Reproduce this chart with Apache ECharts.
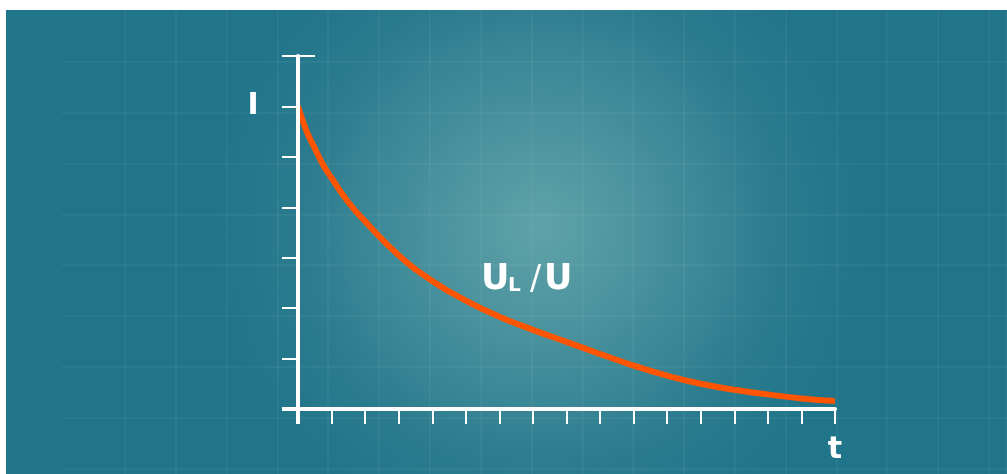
<!DOCTYPE html>
<html>
<head>
<meta charset="utf-8">
<script src="https://cdn.jsdelivr.net/npm/echarts@6/dist/echarts.min.js"></script>
<style>
  html, body { margin: 0; padding: 0; background: #fff; }
  #chart { position: absolute; left: 6px; top: 10px; width: 1001px; height: 464px; }
</style>
</head>
<body>
<div id="chart"></div>
<script>
// time steps and the decaying ratio
var timeSteps = [0, 0.25, 0.5, 0.75, 1, 1.5, 2, 3, 4, 5, 6, 7, 8, 9, 10, 11, 12, 13, 14, 15, 16];
var currentRatio = [6.0, 5.52, 5.17, 4.84, 4.58, 4.10, 3.72, 3.05, 2.54, 2.15, 1.83, 1.57, 1.33, 1.09, 0.86, 0.66, 0.50, 0.38, 0.29, 0.21, 0.16];
var xMax = 16;
var yMax = 7;
var yLabel = 'I';
var xLabel = 't';

var chart = echarts.init(document.getElementById('chart'));

var points = [];
for (var i = 0; i < timeSteps.length; i++) {
  points.push([timeSteps[i], currentRatio[i]]);
}

var white = '#ffffff';
var faint = 'rgba(255,255,255,0.045)';
var font = 'DejaVu Sans';

chart.setOption({
  animation: false,
  backgroundColor: {
    type: 'radial', x: 0.533, y: 0.47, r: 0.7,
    colorStops: [
      { offset: 0, color: 'rgb(96,162,168)' },
      { offset: 0.35, color: 'rgb(72,145,157)' },
      { offset: 0.75, color: 'rgb(42,123,142)' },
      { offset: 1, color: 'rgb(33,117,138)' }
    ]
  },
  grid: [
    { left: 292, top: 46, right: 172, bottom: 65 },
    { left: 119, top: 0, right: 0, bottom: 0 },
    { left: 56, top: 52, right: 0, bottom: 5.6 }
  ],
  xAxis: [
    {
      gridIndex: 0, type: 'value', min: 0, max: xMax, interval: 1, z: 5,
      axisLine: { onZero: false, lineStyle: { color: white, width: 4 } },
      axisTick: { length: 15, lineStyle: { color: white, width: 2 } },
      axisLabel: { show: false },
      splitLine: { show: false }
    },
    {
      gridIndex: 1, type: 'value', min: 0, max: 17.36, interval: 1,
      axisLine: { show: false }, axisTick: { show: false }, axisLabel: { show: false },
      splitLine: { show: true, lineStyle: { color: faint, width: 2 } }
    },
    {
      gridIndex: 2, type: 'value', min: 0, max: 1,
      axisLine: { show: false }, axisTick: { show: false }, axisLabel: { show: false },
      splitLine: { show: false }
    }
  ],
  yAxis: [
    {
      gridIndex: 0, type: 'value', min: 0, max: yMax, interval: 1, z: 5,
      axisLine: { onZero: false, lineStyle: { color: white, width: 4 } },
      axisTick: { length: 16, lineStyle: { color: white, width: 2 } },
      axisLabel: { show: false },
      splitLine: { show: false }
    },
    {
      gridIndex: 1, type: 'value', min: 0, max: 1,
      axisLine: { show: false }, axisTick: { show: false }, axisLabel: { show: false },
      splitLine: { show: false }
    },
    {
      gridIndex: 2, type: 'value', min: 0, max: 8, interval: 1,
      axisLine: { show: false }, axisTick: { show: false }, axisLabel: { show: false },
      splitLine: { show: true, lineStyle: { color: faint, width: 2 } }
    }
  ],
  series: [
    {
      name: 'UL/U',
      type: 'line',
      xAxisIndex: 0,
      yAxisIndex: 0,
      data: points,
      smooth: 0.5,
      showSymbol: false,
      z: 3,
      lineStyle: { color: '#ff5500', width: 6 }
    }
  ]
});

// decorations that hang off the axes: extended origin, top cap, axis letters
var origin = chart.convertToPixel({ gridIndex: 0 }, [0, 0]);
var topEnd = chart.convertToPixel({ gridIndex: 0 }, [0, yMax]);
var xEnd = chart.convertToPixel({ gridIndex: 0 }, [xMax, 0]);
var startPt = chart.convertToPixel({ gridIndex: 0 }, [0, currentRatio[0]]);

chart.setOption({
  graphic: [
    { type: 'line', z: 10, shape: { x1: origin[0] - 16, y1: origin[1], x2: origin[0], y2: origin[1] }, style: { stroke: white, lineWidth: 4 } },
    { type: 'line', z: 10, shape: { x1: origin[0], y1: origin[1], x2: origin[0], y2: origin[1] + 15 }, style: { stroke: white, lineWidth: 4 } },
    { type: 'line', z: 10, shape: { x1: topEnd[0], y1: topEnd[1], x2: topEnd[0] + 17, y2: topEnd[1] }, style: { stroke: white, lineWidth: 2 } },
    { type: 'text', z: 10, x: startPt[0] - 45, y: startPt[1], style: { text: yLabel, fill: white, font: 'bold 30px ' + font, align: 'center', verticalAlign: 'middle' } },
    { type: 'text', z: 10, x: xEnd[0], y: xEnd[1] + 41, style: { text: xLabel, fill: white, font: 'bold 30px ' + font, align: 'center', verticalAlign: 'middle' } },
    { type: 'text', z: 10, x: 475, y: 270, style: { text: 'U', fill: white, font: 'bold 35px ' + font, align: 'left', verticalAlign: 'middle' } },
    { type: 'text', z: 10, x: 502, y: 276, style: { text: 'L', fill: white, font: 'bold 20px ' + font, align: 'left', verticalAlign: 'middle' } },
    { type: 'text', z: 10, x: 524, y: 270, style: { text: '/', fill: white, font: '33px ' + font, align: 'left', verticalAlign: 'middle' } },
    { type: 'text', z: 10, x: 538, y: 270, style: { text: 'U', fill: white, font: 'bold 35px ' + font, align: 'left', verticalAlign: 'middle' } }
  ]
});
</script>
</body>
</html>
